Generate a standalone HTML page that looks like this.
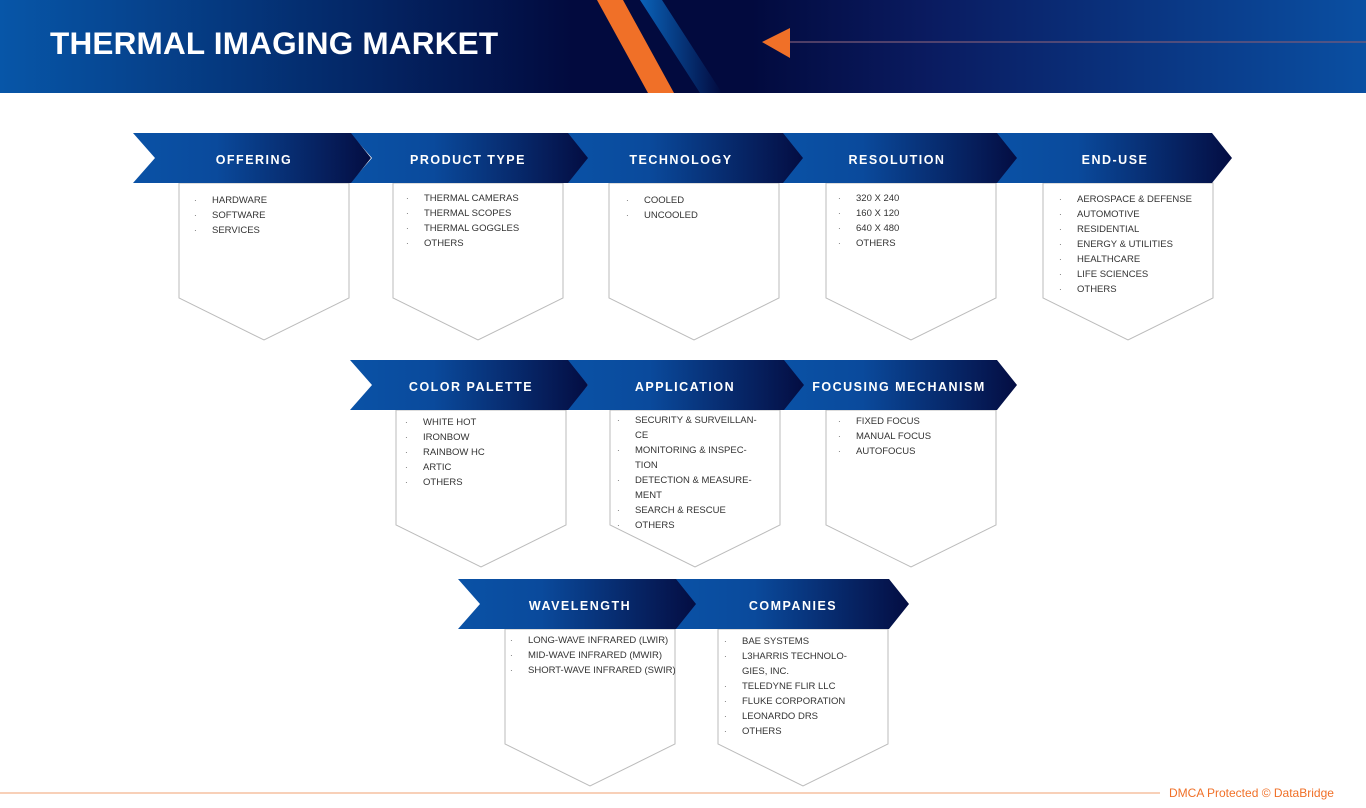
<!DOCTYPE html>
<html><head><meta charset="utf-8"><style>
html,body{margin:0;padding:0;background:#fff;}
svg{display:block;}
.t{font-family:"Liberation Sans",sans-serif;font-weight:bold;font-size:12.5px;fill:#fff;letter-spacing:1.5px;}
.i{font-family:"Liberation Sans",sans-serif;font-size:9.5px;fill:#333;}
.b{font-family:"Liberation Sans",sans-serif;font-size:8px;fill:#555;}
</style></head><body>
<svg width="1366" height="808" viewBox="0 0 1366 808" xmlns="http://www.w3.org/2000/svg">
<defs>
<linearGradient id="hd" x1="0" x2="1" y1="0" y2="0">
<stop offset="0" stop-color="#0756a8"/>
<stop offset="0.42" stop-color="#020a3e"/>
<stop offset="0.55" stop-color="#020a3e"/>
<stop offset="0.68" stop-color="#0a1b60"/>
<stop offset="1" stop-color="#0a4fa2"/>
</linearGradient>
<linearGradient id="bs" x1="0" x2="1" y1="0" y2="0">
<stop offset="0" stop-color="#0a62b8"/>
<stop offset="1" stop-color="#020a3e"/>
</linearGradient>
<linearGradient id="cv" x1="0" x2="1" y1="0" y2="0">
<stop offset="0" stop-color="#0a52a6"/>
<stop offset="0.35" stop-color="#0a4a9c"/>
<stop offset="1" stop-color="#040d42"/>
</linearGradient>
<g id="chev"><polygon points="0,0 218,0 238,25 218,50 0,50 22,25" fill="url(#cv)"/></g>
</defs>
<rect x="0" y="0" width="1366" height="93" fill="url(#hd)"/>
<polygon points="640,0 662,0 722,93 700,93" fill="url(#bs)"/>
<polygon points="597,0 623,0 674,93 648,93" fill="#f07028"/>
<polygon points="762,42 790,28 790,58" fill="#f07028"/>
<line x1="790" y1="42" x2="1366" y2="42" stroke="#7a5a78" stroke-width="1.3"/>
<text x="50" y="54" font-family="Liberation Sans,sans-serif" font-weight="bold" font-size="31.5" fill="#fff" letter-spacing="0.2">THERMAL IMAGING MARKET</text>

<g fill="#fff" stroke="#bbb" stroke-width="1">
<polygon points="179,183 349,183 349,298 264,340 179,298"/>
<polygon points="393,183 563,183 563,298 478,340 393,298"/>
<polygon points="609,183 779,183 779,298 694,340 609,298"/>
<polygon points="826,183 996,183 996,298 911,340 826,298"/>
<polygon points="1043,183 1213,183 1213,298 1128,340 1043,298"/>
<polygon points="396,410 566,410 566,525 481,567 396,525"/>
<polygon points="610,410 780,410 780,525 695,567 610,525"/>
<polygon points="826,410 996,410 996,525 911,567 826,525"/>
<polygon points="505,629 675,629 675,744 590,786 505,744"/>
<polygon points="718,629 888,629 888,744 803,786 718,744"/>
</g>

<use href="#chev" x="994" y="133"/><use href="#chev" x="779" y="133"/><use href="#chev" x="565" y="133"/><use href="#chev" x="350" y="133"/><use href="#chev" x="133" y="133"/>
<use href="#chev" x="779" y="360"/><use href="#chev" x="566" y="360"/><use href="#chev" x="350" y="360"/>
<use href="#chev" x="671" y="579"/><use href="#chev" x="458" y="579"/>

<g text-anchor="middle">
<text class="t" x="254" y="164">OFFERING</text>
<text class="t" x="468" y="164">PRODUCT TYPE</text>
<text class="t" x="681" y="164">TECHNOLOGY</text>
<text class="t" x="897" y="164">RESOLUTION</text>
<text class="t" x="1115" y="164">END-USE</text>
<text class="t" x="471" y="391">COLOR PALETTE</text>
<text class="t" x="685" y="391">APPLICATION</text>
<text class="t" x="899" y="391">FOCUSING MECHANISM</text>
<text class="t" x="580" y="610">WAVELENGTH</text>
<text class="t" x="793" y="610">COMPANIES</text>
</g>

<g class="i">
<text x="212" y="203">HARDWARE</text><text x="212" y="218">SOFTWARE</text><text x="212" y="233">SERVICES</text>
<text x="424" y="201">THERMAL CAMERAS</text><text x="424" y="216">THERMAL SCOPES</text><text x="424" y="231">THERMAL GOGGLES</text><text x="424" y="246">OTHERS</text>
<text x="644" y="203">COOLED</text><text x="644" y="218">UNCOOLED</text>
<text x="856" y="201">320 X 240</text><text x="856" y="216">160 X 120</text><text x="856" y="231">640 X 480</text><text x="856" y="246">OTHERS</text>
<text x="1077" y="202">AEROSPACE &amp; DEFENSE</text><text x="1077" y="217">AUTOMOTIVE</text><text x="1077" y="232">RESIDENTIAL</text><text x="1077" y="247">ENERGY &amp; UTILITIES</text><text x="1077" y="262">HEALTHCARE</text><text x="1077" y="277">LIFE SCIENCES</text><text x="1077" y="292">OTHERS</text>
<text x="423" y="425">WHITE HOT</text><text x="423" y="440">IRONBOW</text><text x="423" y="455">RAINBOW HC</text><text x="423" y="470">ARTIC</text><text x="423" y="485">OTHERS</text>
<text x="635" y="423">SECURITY &amp; SURVEILLAN-</text><text x="635" y="438">CE</text><text x="635" y="453">MONITORING &amp; INSPEC-</text><text x="635" y="468">TION</text><text x="635" y="483">DETECTION &amp; MEASURE-</text><text x="635" y="498">MENT</text><text x="635" y="513">SEARCH &amp; RESCUE</text><text x="635" y="528">OTHERS</text>
<text x="856" y="424">FIXED FOCUS</text><text x="856" y="439">MANUAL FOCUS</text><text x="856" y="454">AUTOFOCUS</text>
<text x="528" y="643">LONG-WAVE INFRARED (LWIR)</text><text x="528" y="658">MID-WAVE INFRARED (MWIR)</text><text x="528" y="673">SHORT-WAVE INFRARED (SWIR)</text>
<text x="742" y="644">BAE SYSTEMS</text><text x="742" y="659">L3HARRIS TECHNOLO-</text><text x="742" y="674">GIES, INC.</text><text x="742" y="689">TELEDYNE FLIR LLC</text><text x="742" y="704">FLUKE CORPORATION</text><text x="742" y="719">LEONARDO DRS</text><text x="742" y="734">OTHERS</text>
</g>
<g class="b">
<text x="194" y="203">·</text><text x="194" y="218">·</text><text x="194" y="233">·</text>
<text x="406" y="201">·</text><text x="406" y="216">·</text><text x="406" y="231">·</text><text x="406" y="246">·</text>
<text x="626" y="203">·</text><text x="626" y="218">·</text>
<text x="838" y="201">·</text><text x="838" y="216">·</text><text x="838" y="231">·</text><text x="838" y="246">·</text>
<text x="1059" y="202">·</text><text x="1059" y="217">·</text><text x="1059" y="232">·</text><text x="1059" y="247">·</text><text x="1059" y="262">·</text><text x="1059" y="277">·</text><text x="1059" y="292">·</text>
<text x="405" y="425">·</text><text x="405" y="440">·</text><text x="405" y="455">·</text><text x="405" y="470">·</text><text x="405" y="485">·</text>
<text x="617" y="423">·</text><text x="617" y="453">·</text><text x="617" y="483">·</text><text x="617" y="513">·</text><text x="617" y="528">·</text>
<text x="838" y="424">·</text><text x="838" y="439">·</text><text x="838" y="454">·</text>
<text x="510" y="643">·</text><text x="510" y="658">·</text><text x="510" y="673">·</text>
<text x="724" y="644">·</text><text x="724" y="659">·</text><text x="724" y="689">·</text><text x="724" y="704">·</text><text x="724" y="719">·</text><text x="724" y="734">·</text>
</g>

<line x1="0" y1="793" x2="1160" y2="793" stroke="#f0a070" stroke-width="1"/>
<text x="1169" y="797" font-family="Liberation Sans,sans-serif" font-size="12" fill="#f07028">DMCA Protected © DataBridge</text>
</svg>
</body></html>
